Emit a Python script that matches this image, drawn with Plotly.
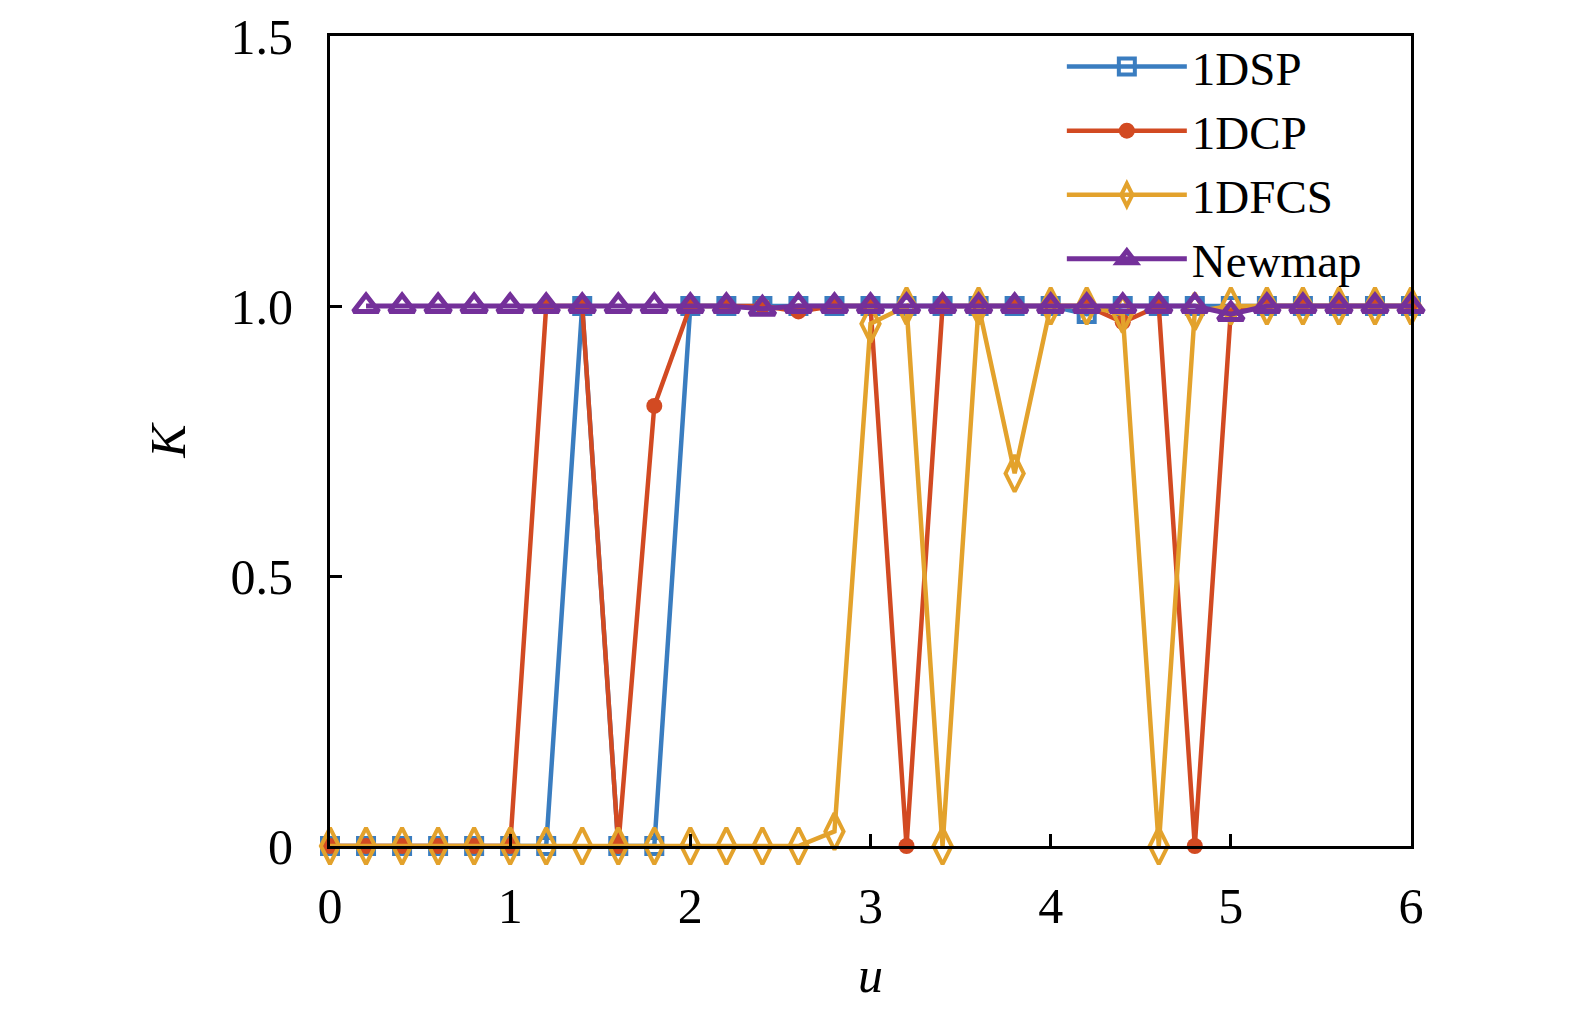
import plotly.graph_objects as go

u = [round(0.2 * i, 1) for i in range(31)]

k_1dsp = [0, 0, 0, 0, 0, 0, 0, 1, 0, 0,
          1, 1, 1, 1, 1, 1, 1, 1, 1, 1,
          1, 0.985, 1, 1, 1, 1, 1, 1, 1, 1, 1]
k_1dcp = [0, 0, 0, 0, 0, 0, 1, 1, 0, 0.815,
          1, 1, 1, 0.99, 1, 1, 0, 1, 1, 1,
          1, 1, 0.97, 1, 0, 0.99, 1, 1, 1, 1, 1]
k_1dfcs = [0, 0, 0, 0, 0, 0, 0, 0, 0, 0,
           0, 0, 0, 0, 0.027, 0.967, 1, 0, 1, 0.69,
           1, 1, 0.985, 0, 0.99, 1, 1, 1, 1, 1, 1]
k_newmap = [None, 1, 1, 1, 1, 1, 1, 1, 1, 1,
            1, 1, 0.995, 1, 1, 1, 1, 1, 1, 1,
            1, 1, 1, 1, 1, 0.985, 1, 1, 1, 1, 1]

names = ["1DSP", "1DCP", "1DFCS", "Newmap"]
ytickvals = [0, 0.5, 1.0, 1.5]
yticktext = ["0", "0.5", "1.0", "1.5"]
xtickvals = [0, 1, 2, 3, 4, 5, 6]

FONT = "Liberation Serif"

fig = go.Figure()
fig.add_trace(go.Scatter(x=u, y=k_1dsp, name=names[0], mode="lines+markers",
                         line=dict(color="#3A7DC0", width=4.5),
                         marker=dict(symbol="square-open", size=16, color="#3A7DC0",
                                     line=dict(width=4)),
                         cliponaxis=False))
fig.add_trace(go.Scatter(x=u, y=k_1dcp, name=names[1], mode="lines+markers",
                         line=dict(color="#D24A22", width=4.5),
                         marker=dict(symbol="circle", size=16, color="#D24A22"),
                         cliponaxis=False))
fig.add_trace(go.Scatter(x=u, y=k_1dfcs, name=names[2], mode="lines+markers",
                         line=dict(color="#E3A22C", width=4.5),
                         marker=dict(symbol="diamond-tall-open", size=26, color="#E3A22C",
                                     line=dict(width=4)),
                         cliponaxis=False))
fig.add_trace(go.Scatter(x=u, y=k_newmap, name=names[3], mode="lines+markers",
                         line=dict(color="#74309A", width=5),
                         marker=dict(symbol="triangle-up-open", size=22, color="#74309A",
                                     line=dict(width=5)),
                         cliponaxis=False))

axis_common = dict(showline=True, linecolor="black", linewidth=3, mirror=True,
                   ticks="inside", ticklen=12, tickwidth=2.5, tickcolor="black",
                   showgrid=False, zeroline=False, automargin=False,
                   ticklabeloverflow="allow",
                   tickfont=dict(family=FONT, size=50, color="black"))

fig.update_xaxes(range=[0, 6], tickvals=xtickvals, ticklabelstandoff=14,
                 title=dict(text="<i>u</i>", font=dict(family=FONT, size=50, color="black"),
                            standoff=24),
                 **axis_common)
fig.update_yaxes(range=[0, 1.5], tickvals=ytickvals, ticktext=yticktext,
                 ticklabelstandoff=24,
                 title=dict(text="<i>K</i>", font=dict(family=FONT, size=50, color="black"),
                            standoff=30),
                 **axis_common)

fig.update_layout(
    width=1575, height=1011,
    margin=dict(l=322, r=172, t=28, b=173),
    paper_bgcolor="white", plot_bgcolor="white",
    font=dict(family=FONT, color="black"),
    legend=dict(x=0.677, y=1.008, xanchor="left", yanchor="top",
                font=dict(family=FONT, size=47, color="black"),
                bgcolor="rgba(0,0,0,0)", itemwidth=120, tracegroupgap=0),
)

fig.write_html("out.html")
